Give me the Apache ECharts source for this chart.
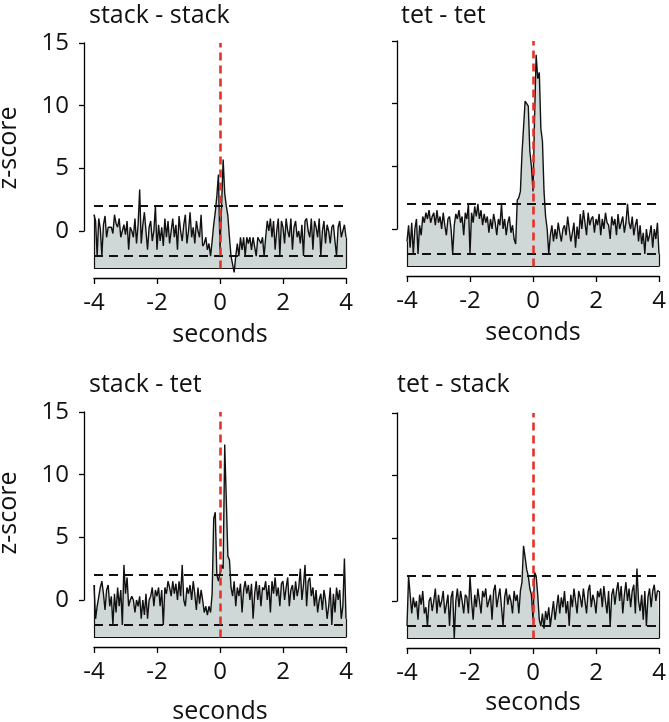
<!DOCTYPE html>
<html>
<head>
<meta charset="utf-8">
<script src="https://cdn.jsdelivr.net/npm/echarts@6/dist/echarts.min.js"></script>
<style>
  html, body { margin: 0; padding: 0; background: #fff; }
  #chart { width: 669px; height: 722px; }
</style>
</head>
<body>
<div id="chart"></div>
<script>
// bins of 0.05 s from -4 to 4 (161 values per panel)
const binStart = -4;
const binWidth = 0.05;

const titles = ['stack - stack', 'tet - tet', 'stack - tet', 'tet - stack'];

const stackStack = [
  1.3, 0.8, -2.0, 1.0, 0.2, -2.0, 0.5, 1.2, -0.5, 0.3,
  0.3, 0.3, -0.2, 1.3, 0.6, 0.3, 1.0, -0.5, 0.0, 0.5,
  -0.3, 0.8, -1.5, 0.3, 0.0, -0.5, 1.0, -1.0, 0.5, 3.3,
  -1.0, 0.5, 1.5, 0.0, -1.5, 0.3, 0.8, -0.8, 0.0, 2.0,
  -1.5, 0.5, -0.8, 0.3, -1.2, 1.0, -0.5, 0.8, -1.0, 0.0,
  1.0, -0.5, 0.5, -1.5, 1.2, 0.0, -0.8, 0.5, 1.3, -1.0,
  0.0, 1.5, -0.5, 0.3, -1.0, 0.8, 0.0, -0.5, 1.3, -1.2,
  -1.0, -0.5, -1.5, -1.0, -2.0, -0.8, 0.5, 1.5, 2.8, 4.5,
  -1.5, 2.0, 5.7, 3.0, 2.0, 1.2, -0.5, -2.0, -2.0, -3.3,
  -2.0, -1.0, -2.0, -0.5, -1.5, -0.5, -2.0, -0.5, -1.0, -0.5,
  -1.5, -0.5, -0.5, -2.0, -0.5, -0.5, -1.0, -0.5, -2.0, -0.5,
  0.8, 0.0, 1.0, -0.5, 0.8, -1.5, 0.0, 1.0, -2.0, 0.8,
  0.3, -1.0, 1.0, 0.0, -0.5, 1.0, -1.5, 0.3, 0.8, -0.5,
  0.0, -1.0, 0.5, -2.0, 0.8, 1.0, 0.0, -0.5, 1.0, -1.5,
  0.8, 0.3, -0.5, 1.0, -2.0, 0.0, 0.8, -1.0, 0.5, 0.0,
  -1.0, 0.3, 0.5, -0.8, -2.0, 0.3, 0.8, -0.5, 0.0, 0.5,
  -0.5
];

const tetTet = [
  -1.0, 0.3, -1.5, 0.5, -2.0, 0.0, 0.8, -2.0, 0.3, -0.5,
  1.0, 0.5, 1.3, 0.8, 1.5, 0.5, 1.0, 1.3, 0.3, 1.5,
  0.5, 1.0, 0.0, 1.3, 0.3, -0.5, 0.8, 1.0, 0.0, -2.0,
  0.3, 1.2, 0.8, 1.5, 0.5, 1.0, -0.5, 1.3, 0.8, 2.0,
  -2.0, 1.3, 0.5, 1.8, 1.0, 2.0, 0.8, 1.5, 0.3, 1.2,
  0.5, 1.0, -0.3, 0.8, 0.0, 1.2, 0.5, -0.5, 0.8, 0.3,
  2.0, 0.0, 0.8, -0.5, 0.5, 1.0, -0.3, 0.3, -0.8, -1.2,
  2.3, 2.5, 3.0, 6.0, 6.0, 10.2, 10.0, 9.8, 6.2, 5.0,
  3.0, 9.0, 13.9, 12.0, 12.5, 8.0, 7.0, 3.0, 1.0, 0.0,
  -2.0, -0.5, 0.3, -1.0, 0.0, -0.8, 0.5, -0.3, -1.0, 0.0,
  0.3, -0.5, 1.0, 0.0, -1.0, -0.3, 0.5, -1.5, 0.2, -0.8,
  1.2, 0.0, 1.5, 0.5, -0.5, 1.3, 0.3, 0.8, 1.0, -0.3,
  0.8, 0.3, 1.2, -0.5, 0.8, 0.0, 1.3, 0.5, 0.3, -0.8,
  1.0, 0.3, 0.8, -0.5, 1.2, 0.0, 0.5, 1.0, -0.3, 0.5,
  2.0, 0.5, 0.0, 1.0, -0.5, 0.3, 0.8, -1.0, 0.3, -1.2,
  -0.3, -2.0, 0.0, -1.0, -0.5, 0.3, -1.5, 0.0, -0.8, 0.5,
  -2.0
];

const stackTet = [
  1.2, -1.5, -0.5, -0.5, 1.0, 1.5, 0.5, -0.8, 0.8, 1.2,
  -0.5, 0.3, -2.0, 0.5, -1.0, 1.0, -0.5, 0.8, -2.0, 2.8,
  0.5, 1.8, -0.5, 0.0, 0.3, 0.0, -1.0, 0.0, -0.5, 0.3,
  -1.5, 0.0, -1.2, 0.5, -1.5, 0.0, 0.3, 1.0, -0.5, 0.8,
  0.3, 1.0, -0.5, 0.8, -2.0, 1.0, 0.5, 1.5, 1.0, 0.3,
  1.5, 0.5, 1.3, 0.0, 1.5, 0.3, 2.8, 0.0, -0.5, 1.0,
  0.5, 1.2, 0.0, 1.5, 0.5, -0.8, 1.0, -0.3, 0.8, 0.0,
  -1.0, -0.5, -1.2, -0.5, -1.0, 0.5, 6.5, 7.0, 2.0, 1.5,
  1.5, 2.8, 2.5, 12.4, 8.0, 3.5, 3.2, 1.0, 0.3, 1.5,
  -0.5, 1.0, 0.3, 1.3, -1.0, 0.8, 1.5, 0.5, 1.2, 0.0,
  1.3, -1.5, 0.5, 1.5, 0.0, 1.2, -0.5, 1.0, 0.8, 1.5,
  0.0, 1.2, -1.0, 1.5, 0.5, 1.8, 0.3, 1.0, -0.5, 1.3,
  1.5, 0.0, 1.0, 1.8, -0.5, 0.8, 1.2, 0.0, 1.5, 0.3,
  1.0, 2.5, 0.0, 1.2, 2.8, -0.5, 1.5, 1.8, 0.3, 1.0,
  -0.5, 0.8, -1.0, 0.0, 0.5, -0.8, 0.8, 0.0, -1.5, -0.5,
  1.0, -2.0, 0.5, -1.0, 1.0, 0.0, 0.8, -1.5, -0.5, 3.3,
  -1.5
];

const tetStack = [
  -2.0, 2.0, 0.5, -1.0, 0.3, -0.5, 0.0, -1.5, 0.5, -0.3,
  0.8, -1.0, -0.5, -2.0, 0.0, 0.3, -0.8, 0.0, 1.0, -1.0,
  0.5, -0.5, 0.0, 0.8, -1.0, -0.3, 0.5, -2.0, 0.3, 0.8,
  -3.0, 0.0, 1.0, -0.5, 0.8, 0.0, -1.0, 0.5, 0.3, -1.0,
  2.0, 0.0, -1.5, 0.5, -0.5, 1.0, 0.0, -1.0, 0.8, 0.3,
  1.0, -0.5, 0.0, 0.5, -1.5, 0.8, 1.3, -0.5, 0.3, 1.0,
  -0.5, -2.0, 0.3, 1.0, -0.3, 0.5, 0.0, -1.0, 0.8, 0.0,
  0.5, -1.0, 0.8, 1.5, 4.4, 3.5, 2.5, 2.0, 1.0, 0.5,
  -1.5, 2.3, 2.0, 0.5, -1.5, -2.0, -1.0, -2.2, -0.8, -1.5,
  -0.5, -2.0, -1.0, 0.0, -1.5, -0.5, 0.5, -1.0, 0.3, -0.5,
  0.8, -1.0, 0.0, -2.0, 0.5, -0.5, 1.0, 0.0, -1.0, 0.8,
  0.3, -0.5, 1.0, 0.0, -1.0, 0.8, 1.3, -0.5, 0.5, 0.0,
  -1.0, 0.8, 0.3, 1.0, -0.5, 1.2, 0.0, -1.0, 0.8, -2.0,
  0.5, 1.0, -0.3, 0.8, 1.5, 0.0, 1.2, -1.0, 0.5, 1.5,
  0.0, 1.0, -0.5, 0.8, 1.3, -1.0, 2.6, 0.0, -0.8, 0.5,
  -1.5, 0.8, -2.0, 0.3, 1.0, -0.5, 0.8, 1.3, 0.0, 0.8,
  0.8
];

const thresholds = [2, -2];   // dashed significance lines
const baseLevel = -3;         // bottom of the shaded area
const markerTop = 15;         // top of the red dashed line at 0 s
const xRange = [-4, 4];
const yRange = [0, 15];

const font = 'Open Sans';
const ink = '#111';

// layout for each panel (pixels)
const panels = [
  { values: stackStack, left: 94, top: 43, titleLeft: 84, titleTop: -2, nameGap: 44, labels: true },
  { values: tetTet, left: 407, top: 41, titleLeft: 396, titleTop: -2, nameGap: 44, labels: false },
  { values: stackTet, left: 94, top: 412, titleLeft: 84, titleTop: 367, nameGap: 52, labels: true },
  { values: tetStack, left: 407, top: 413, titleLeft: 392, titleTop: 367, nameGap: 42, labels: false }
];

const plotWidth = 252;
const plotHeight = 235;   // from y=15 down to the x axis line
const axisHeight = 188;   // y axis covers 0..15 only
const yMin = yRange[1] - plotHeight / (axisHeight / (yRange[1] - yRange[0]));

const grid = [], xAxis = [], yAxis = [], series = [], title = [];

panels.forEach((p, i) => {
  const g = i * 2;
  const pts = p.values.map((v, k) => [+(binStart + k * binWidth).toFixed(2), v]);
  const last = pts[pts.length - 1];

  title.push({
    text: titles[i], left: p.titleLeft, top: p.titleTop,
    textStyle: { fontFamily: font, fontSize: 25, fontWeight: 'normal', color: ink }
  });

  // plot area
  grid.push({ left: p.left, top: p.top, width: plotWidth, height: plotHeight, outerBoundsMode: 'none' });
  // y axis only, drawn a little to the left like R
  grid.push({ left: p.left - 10, top: p.top, width: 10, height: axisHeight, outerBoundsMode: 'none' });

  xAxis.push({
    gridIndex: g, type: 'value', min: xRange[0], max: xRange[1], interval: 2,
    axisLine: { show: true, onZero: false, lineStyle: { color: '#000', width: 1.3 } },
    axisTick: { show: true, length: 6, lineStyle: { color: '#000', width: 1.3 } },
    axisLabel: { fontFamily: font, fontSize: 24, color: ink, margin: 13 },
    splitLine: { show: false },
    name: 'seconds', nameLocation: 'middle', nameGap: p.nameGap,
    nameTextStyle: { fontFamily: font, fontSize: 25, color: ink }
  });
  xAxis.push({ gridIndex: g + 1, type: 'value', min: 0, max: 1, show: false });

  yAxis.push({ gridIndex: g, type: 'value', min: yMin, max: yRange[1], show: false });
  yAxis.push({
    gridIndex: g + 1, type: 'value', min: yRange[0], max: yRange[1], interval: 5,
    axisLine: { show: true, onZero: false, lineStyle: { color: '#000', width: 1.3 } },
    axisTick: { show: true, length: 5, lineStyle: { color: '#000', width: 1.3 } },
    axisLabel: { show: p.labels, fontFamily: font, fontSize: 24, color: ink, margin: 15 },
    splitLine: { show: false }
  });

  series.push({
    type: 'line', xAxisIndex: g, yAxisIndex: g,
    data: pts, symbol: 'none', silent: true, animation: false,
    lineStyle: { color: ink, width: 1.4 },
    areaStyle: { color: '#cfd8d6', opacity: 1, origin: baseLevel },
    z: 2
  });

  const dashed = { color: ink, width: 2, type: [9, 6] };
  const solid = { color: ink, width: 1.2, type: 'solid' };
  series.push({
    type: 'line', xAxisIndex: g, yAxisIndex: g, data: [], z: 5, silent: true, animation: false,
    markLine: {
      silent: true, symbol: 'none', animation: false, label: { show: false },
      data: [
        [{ coord: [xRange[0], baseLevel], lineStyle: solid }, { coord: [xRange[1], baseLevel] }],
        [{ coord: [xRange[0], baseLevel], lineStyle: solid }, { coord: pts[0] }],
        [{ coord: [xRange[1], baseLevel], lineStyle: solid }, { coord: last }],
        [{ coord: [xRange[0], thresholds[0]], lineStyle: dashed }, { coord: [xRange[1], thresholds[0]] }],
        [{ coord: [xRange[0], thresholds[1]], lineStyle: dashed }, { coord: [xRange[1], thresholds[1]] }],
        [{ coord: [0, baseLevel], lineStyle: { color: '#e5332a', width: 2.6, type: [8, 5] } }, { coord: [0, markerTop] }]
      ]
    }
  });
});

const chart = echarts.init(document.getElementById('chart'));
chart.setOption({
  animation: false,
  backgroundColor: '#fff',
  textStyle: { fontFamily: font },
  title, grid, xAxis, yAxis, series,
  graphic: [
    { type: 'text', x: 9, y: 148, rotation: Math.PI / 2,
      style: { text: 'z-score', font: '25px "Open Sans"', fill: ink, align: 'center', verticalAlign: 'middle' } },
    { type: 'text', x: 9, y: 513, rotation: Math.PI / 2,
      style: { text: 'z-score', font: '25px "Open Sans"', fill: ink, align: 'center', verticalAlign: 'middle' } }
  ]
});
</script>
</body>
</html>
